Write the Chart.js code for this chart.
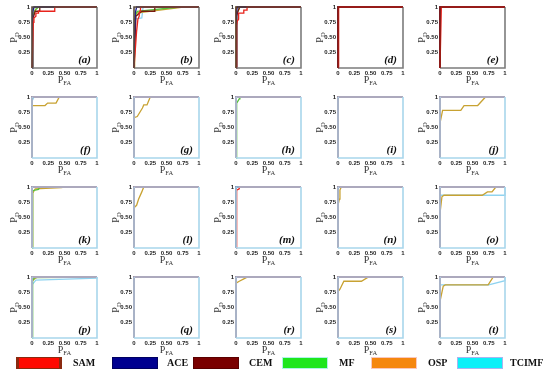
<!DOCTYPE html>
<html>
<head>
<meta charset="utf-8">
<script src="https://cdn.jsdelivr.net/npm/chart.js@4/dist/chart.umd.min.js"></script>
<style>
  body { margin: 0; background: #fff; }
  #wrap { position: relative; width: 550px; height: 380px; overflow: hidden; }
  #wrap canvas { position: absolute; }
  .lg-box { position: absolute; top: 357px; width: 44px; height: 10px; }
  .lg-txt { position: absolute; top: 356px; font: bold 10px "Liberation Serif", "DejaVu Serif", serif; color: #111; line-height: 13px; }
</style>
</head>
<body>
<div id="wrap"></div>
<script>
// ROC curves, 20 panels (a)-(t), PD vs PFA for six detectors

const SERIES = ['SAM', 'ACE', 'CEM', 'MF', 'OSP', 'TCIMF'];
const PANELS = ['(a)', '(b)', '(c)', '(d)', '(e)', '(f)', '(g)', '(h)', '(i)', '(j)',
                '(k)', '(l)', '(m)', '(n)', '(o)', '(p)', '(q)', '(r)', '(s)', '(t)'];
const TICK_LABELS = ['0', '0.25', '0.50', '0.75', '1'];

// perfect detection: straight up the left edge, then along the top
const PERFECT = [[0, 0], [0, 1], [1, 1]];

// each series: one [pfa, pd] list per panel, in panel order
const SAM = [
  [[0, 0], [0.02, 0.75], [0.03, 0.82], [0.06, 0.85], [0.06, 0.9], [0.1, 0.9], [0.1, 0.93], [0.35, 0.93], [0.35, 1], [1, 1]],
  [[0, 0], [0.04, 0.6], [0.06, 0.8], [0.08, 0.85], [0.08, 0.9], [0.1, 0.95], [0.1, 1], [1, 1]],
  [[0, 0], [0.01, 0.7], [0.02, 0.77], [0.04, 0.8], [0.04, 0.9], [0.12, 0.9], [0.12, 0.95], [0.17, 0.95], [0.17, 1], [1, 1]],
  [[0, 0], [0.01, 0.97], [0.01, 1], [1, 1]],
  [[0, 0], [0.02, 0.96], [0.02, 1], [1, 1]],
  PERFECT, PERFECT, PERFECT, PERFECT, PERFECT,
  PERFECT, PERFECT,
  [[0, 0], [0.01, 0.95], [0.05, 0.97], [0.05, 1], [1, 1]],
  PERFECT, PERFECT,
  PERFECT, PERFECT, PERFECT, PERFECT, PERFECT
];
const ACE = [
  [[0, 0], [0.01, 0.9], [0.03, 1], [1, 1]],
  [[0, 0], [0.02, 0.9], [0.04, 1], [1, 1]],
  [[0, 0], [0.01, 0.92], [0.02, 1], [1, 1]],
  PERFECT, PERFECT,
  PERFECT, PERFECT, PERFECT, PERFECT, PERFECT,
  PERFECT, PERFECT, PERFECT, PERFECT, PERFECT,
  PERFECT, PERFECT, PERFECT, PERFECT, PERFECT
];
const CEM = [
  [[0, 0], [0.01, 0.8], [0.05, 0.93], [0.12, 0.93], [0.12, 1], [1, 1]],
  [[0, 0], [0.03, 0.85], [0.12, 0.93], [0.32, 0.93], [0.32, 1], [1, 1]],
  [[0, 0], [0.01, 0.85], [0.03, 0.93], [0.06, 1], [1, 1]],
  PERFECT, PERFECT,
  PERFECT, PERFECT, PERFECT, PERFECT, PERFECT,
  PERFECT, PERFECT, PERFECT, PERFECT, PERFECT,
  PERFECT, PERFECT, PERFECT, PERFECT, PERFECT
];
const MF = [
  [[0, 0], [0.01, 0.85], [0.05, 0.95], [0.1, 1], [1, 1]],
  [[0, 0], [0.02, 0.85], [0.05, 0.93], [0.7, 1], [1, 1]],
  [[0, 0], [0.01, 0.88], [0.04, 0.95], [0.05, 1], [1, 1]],
  PERFECT, PERFECT,
  PERFECT, PERFECT,
  [[0, 0], [0.01, 0.9], [0.05, 0.97], [0.06, 1], [1, 1]],
  PERFECT, PERFECT,
  [[0, 0], [0.01, 0.94], [0.1, 0.96], [0.12, 1], [1, 1]],
  PERFECT, PERFECT, PERFECT, PERFECT,
  [[0, 0], [0.01, 0.95], [0.04, 0.99], [1, 1]],
  PERFECT, PERFECT, PERFECT, PERFECT
];
const OSP = [
  [[0, 0], [0.01, 0.88], [0.06, 0.97], [0.1, 1], [1, 1]],
  [[0, 0], [0.01, 0.8], [0.03, 0.9], [0.7, 0.99], [0.75, 1], [1, 1]],
  PERFECT, PERFECT, PERFECT,
  [[0, 0], [0, 0.86], [0.2, 0.86], [0.24, 0.9], [0.37, 0.9], [0.42, 1], [1, 1]],
  [[0, 0], [0, 0.66], [0.05, 0.68], [0.13, 0.82], [0.15, 0.87], [0.2, 0.87], [0.25, 1], [1, 1]],
  PERFECT, PERFECT,
  [[0, 0], [0, 0.57], [0.04, 0.78], [0.32, 0.78], [0.37, 0.86], [0.58, 0.86], [0.7, 1], [1, 1]],
  [[0, 0], [0.01, 0.9], [0.05, 0.97], [0.45, 0.99], [0.5, 1], [1, 1]],
  [[0, 0], [0, 0.66], [0.04, 0.7], [0.07, 0.8], [0.12, 0.92], [0.15, 1], [1, 1]],
  PERFECT,
  [[0, 0], [0, 0.7], [0.02, 0.8], [0.03, 0.95], [0.05, 1], [1, 1]],
  [[0, 0], [0, 0.57], [0.03, 0.84], [0.06, 0.865], [0.65, 0.865], [0.73, 0.92], [0.8, 0.92], [0.86, 1], [1, 1]],
  [[0, 0], [0, 0.93], [0.05, 0.98], [0.1, 1], [1, 1]],
  PERFECT,
  [[0, 0], [0, 0.9], [0.05, 0.93], [0.12, 0.97], [0.18, 1], [1, 1]],
  [[0, 0], [0, 0.76], [0.03, 0.8], [0.09, 0.93], [0.36, 0.93], [0.47, 1], [1, 1]],
  [[0, 0], [0, 0.6], [0.05, 0.85], [0.08, 0.87], [0.74, 0.87], [0.82, 1], [1, 1]]
];
const TCIMF = [
  [[0, 0], [0, 0.95], [0.04, 1], [1, 1]],
  [[0, 0], [0, 0.8], [0.12, 0.82], [0.14, 1], [1, 1]],
  PERFECT, PERFECT, PERFECT,
  [[0, 0], [0, 0.93], [0.03, 1], [1, 1]],
  PERFECT, PERFECT, PERFECT, PERFECT,
  PERFECT, PERFECT, PERFECT, PERFECT,
  [[0, 0], [0, 0.865], [1, 0.865], [1, 1]],
  [[0, 0], [0, 0.87], [0.06, 0.95], [1, 0.98], [1, 1]],
  PERFECT, PERFECT, PERFECT,
  [[0, 0], [0, 0.87], [0.75, 0.87], [1, 0.94], [1, 1]]
];
const CURVES = [SAM, ACE, CEM, MF, OSP, TCIMF];

// colours: how the thin lines look in the plots, and the legend swatches
const LINE_COLORS = ['#e8231c', '#1c1c8a', '#7a1a10', '#56c23c', '#c8a232', '#8fd3f0'];
const SWATCH_COLORS = ['#ff0a00', '#000090', '#7a0000', '#1ee61e', '#f5870f', '#0cf0f8'];
const SWATCH_BORDERS = ['#8a2a10', '#000060', '#5a0000', '#b0f2e8', '#f8c8c0', '#a8b4f0'];

// frame colours per panel (top/left edge, bottom/right edge)
const ROW1_TL = ['#5a4a3c', '#5a4a3c', '#5a3c30', '#8b1a12', '#8b1a12'];
const FRAME_BLUE = '#a8d6ec';

const COL_W = 102, ROW_H = 90;

const decor = {
  id: 'decor',
  afterDatasetsDraw(chart, args, opts) {
    const { ctx, chartArea: a } = chart;
    ctx.save();
    // frame sits over the lines, as in the source figure
    ctx.lineWidth = 1.6;
    ctx.strokeStyle = opts.br;
    ctx.beginPath();
    ctx.moveTo(a.left, a.bottom); ctx.lineTo(a.right, a.bottom); ctx.lineTo(a.right, a.top);
    ctx.stroke();
    ctx.strokeStyle = opts.tl;
    ctx.beginPath();
    ctx.moveTo(a.left, a.bottom); ctx.lineTo(a.left, a.top); ctx.lineTo(a.right, a.top);
    ctx.stroke();

    // panel letter
    ctx.fillStyle = '#111';
    ctx.font = 'italic bold 11px "Liberation Serif", serif';
    ctx.textAlign = 'right';
    ctx.textBaseline = 'alphabetic';
    ctx.fillText(opts.label, a.right - 6, a.bottom - 5);

    // x title: P with subscript FA
    ctx.fillStyle = '#333';
    ctx.textAlign = 'left';
    const big = '10px "Liberation Serif", serif', small = '6.5px "Liberation Serif", serif';
    ctx.font = big; const wP = ctx.measureText('P').width;
    ctx.font = small; const wFA = ctx.measureText('FA').width;
    let x0 = (a.left + a.right) / 2 - (wP + wFA) / 2;
    ctx.font = big; ctx.fillText('P', x0, a.bottom + 15);
    ctx.font = small; ctx.fillText('FA', x0 + wP, a.bottom + 17);

    // y title: P with subscript D, rotated
    ctx.translate(a.left - 15.5, (a.top + a.bottom) / 2);
    ctx.rotate(-Math.PI / 2);
    ctx.font = big; const wP2 = ctx.measureText('P').width;
    ctx.font = small; const wD = ctx.measureText('D').width;
    x0 = -(wP2 + wD) / 2;
    ctx.font = big; ctx.fillText('P', x0, 0);
    ctx.font = small; ctx.fillText('D', x0 + wP2, 2);
    ctx.restore();
  }
};

const wrap = document.getElementById('wrap');
const tickFont = { family: '"Liberation Sans", Arial, sans-serif', size: 6, weight: 'bold' };

PANELS.forEach((label, p) => {
  const row = Math.floor(p / 5), col = p % 5;
  const cv = document.createElement('canvas');
  cv.width = COL_W; cv.height = ROW_H;
  cv.style.left = (col * COL_W) + 'px';
  cv.style.top = (row * ROW_H) + 'px';
  wrap.appendChild(cv);

  const datasets = SERIES.map((name, s) => ({
    label: name,
    data: CURVES[s][p].map(([x, y]) => ({ x, y })),
    borderColor: LINE_COLORS[s],
    borderWidth: 1.3,
    showLine: true,
    pointRadius: 0,
    tension: 0,
    clip: 3
  }));

  new Chart(cv, {
    type: 'scatter',
    data: { datasets },
    options: {
      responsive: false,
      animation: false,
      devicePixelRatio: 1,
      events: [],
      layout: { padding: { left: 0, top: 7, right: 5, bottom: 0 } },
      plugins: {
        legend: { display: false },
        tooltip: { enabled: false },
        decor: {
          label,
          tl: row === 0 ? ROW1_TL[col] : FRAME_BLUE,
          br: row === 0 ? '#7c7c7c' : FRAME_BLUE
        }
      },
      scales: {
        x: {
          type: 'linear', min: 0, max: 1,
          grid: { display: false, drawTicks: false, tickLength: 0 }, border: { display: false },
          ticks: { stepSize: 0.25, padding: 2, color: '#222', font: tickFont, maxRotation: 0,
                   callback: (v, i) => TICK_LABELS[i] },
          afterFit: s => { s.height = 22; }
        },
        y: {
          type: 'linear', min: 0, max: 1,
          grid: { display: false, drawTicks: false, tickLength: 0 }, border: { display: false },
          ticks: { stepSize: 0.25, padding: 2, color: '#222', font: tickFont,
                   callback: (v, i) => (i === 0 ? '' : TICK_LABELS[i]) },
          afterFit: s => { s.width = 32; }
        }
      }
    },
    plugins: [decor]
  });
});

// legend row under the grid
const LEGEND_BOX_X = [16, 112, 193, 282, 371, 457];
const LEGEND_TXT_X = [73, 167, 249, 339, 428, 510];
SERIES.forEach((name, s) => {
  const box = document.createElement('div');
  box.className = 'lg-box';
  box.style.left = LEGEND_BOX_X[s] + 'px';
  box.style.background = SWATCH_COLORS[s];
  box.style.border = '1px solid ' + SWATCH_BORDERS[s];
  if (s === 0) { box.style.borderLeftWidth = '3px'; box.style.borderRightWidth = '3px'; box.style.width = '40px'; }
  wrap.appendChild(box);
  const txt = document.createElement('div');
  txt.className = 'lg-txt';
  txt.style.left = LEGEND_TXT_X[s] + 'px';
  txt.textContent = name;
  wrap.appendChild(txt);
});
</script>
</body>
</html>
